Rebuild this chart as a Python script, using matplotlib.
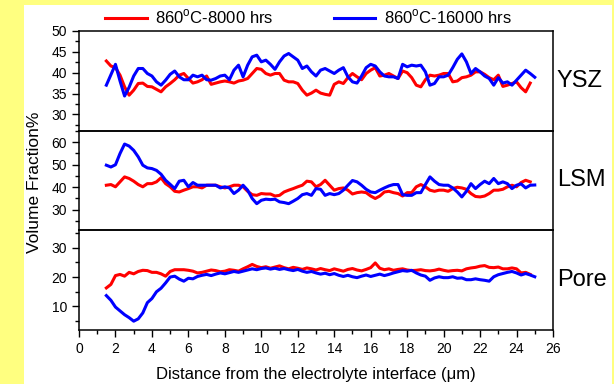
import numpy as np
import matplotlib
matplotlib.use('Agg')
import matplotlib.pyplot as plt
from matplotlib.patches import Rectangle
from matplotlib.ticker import MultipleLocator

plt.rcParams['font.family'] = ['Liberation Sans', 'DejaVu Sans']
plt.rcParams['mathtext.fontset'] = 'custom'
plt.rcParams['mathtext.rm'] = 'Liberation Sans'

### sampling positions (um)
x_8000 = np.arange(1.5, 24.76, 0.25)
x_16000 = np.arange(1.5, 25.01, 0.25)

### YSZ
ysz_8000 = [42.8, 41.6, 41.2, 39.4, 36.6, 34.6, 35.8, 37.4, 37.5, 36.7, 36.6, 36.0, 35.4, 36.6, 37.4, 38.3, 39.4,
            39.8, 38.6, 37.5, 37.8, 38.3, 39.2, 37.2, 37.5, 37.8, 38.0, 37.8, 37.5, 38.0, 38.2, 38.6, 39.8, 41.0,
            40.8, 39.8, 39.4, 39.8, 39.8, 38.2, 37.8, 37.8, 37.4, 35.8, 34.6, 35.1, 35.8, 35.1, 34.8, 34.6, 37.2,
            37.8, 37.4, 38.8, 39.8, 39.0, 38.3, 39.8, 40.6, 41.2, 39.2, 39.4, 39.8, 39.2, 38.6, 40.4, 40.0,
            38.8, 37.0, 36.6, 38.3, 39.4, 39.2, 39.4, 39.8, 39.8, 37.8, 38.0, 38.8, 39.0, 39.4, 40.2, 40.2, 39.6,
            38.8, 38.3, 39.4, 36.7, 37.0, 37.4, 37.8, 36.4, 35.4, 37.5]
ysz_16000 = [37.0, 39.5, 42.0, 38.0, 34.4, 36.5, 39.2, 41.0, 41.0, 39.8, 39.2, 37.8, 37.0, 38.2, 39.6, 40.4, 39.0,
             38.3, 38.3, 39.4, 39.0, 39.4, 38.3, 38.2, 38.6, 39.2, 39.4, 38.3, 40.6, 41.8, 39.0, 41.8, 43.8, 44.2,
             42.6, 43.0, 42.0, 40.8, 42.6, 44.0, 44.6, 43.8, 43.0, 41.0, 41.6, 40.2, 39.2, 40.6, 41.0, 40.4, 39.8,
             40.6, 41.2, 39.0, 37.8, 37.5, 39.2, 41.2, 42.0, 41.6, 40.2, 39.2, 39.0, 39.0, 38.6, 42.0, 41.4,
             41.8, 41.6, 41.8, 40.2, 37.0, 37.4, 39.0, 39.0, 39.4, 41.2, 43.2, 44.5, 42.6, 39.8, 41.0, 40.2, 39.2,
             38.6, 37.0, 38.8, 37.5, 37.8, 37.0, 38.2, 39.4, 40.6, 39.8, 38.9]

### LSM
lsm_8000 = [40.9, 41.2, 40.2, 42.4, 44.6, 43.9, 42.7, 41.2, 40.2, 41.6, 41.6, 42.4, 44.2, 41.6, 40.2, 38.2, 37.9,
            38.7, 39.4, 40.2, 40.2, 39.7, 40.9, 40.9, 40.9, 40.2, 39.7, 40.2, 40.9, 40.9, 40.2, 38.2, 36.7, 36.4,
            37.2, 37.0, 37.0, 36.1, 36.4, 37.9, 38.7, 39.4, 40.2, 40.9, 42.7, 42.4, 40.2, 41.2, 43.1, 40.9, 38.7,
            39.4, 39.7, 38.7, 37.0, 37.6, 37.9, 37.6, 36.1, 35.0, 36.1, 37.9, 38.2, 37.6, 37.2, 36.1, 37.6,
            37.6, 40.2, 41.2, 40.2, 38.7, 38.2, 38.7, 38.7, 38.2, 39.4, 40.0, 39.7, 39.1, 37.2, 35.9, 35.7, 36.1,
            37.2, 38.7, 38.7, 39.1, 40.2, 40.9, 40.2, 42.1, 43.1, 42.4]
lsm_16000 = [49.8, 49.0, 50.0, 55.0, 59.2, 58.3, 56.4, 53.5, 49.8, 48.6, 48.3, 47.5, 45.8, 43.1, 41.3, 39.4, 42.7,
             43.1, 40.2, 42.1, 40.9, 40.9, 40.9, 40.9, 40.9, 39.7, 40.2, 39.7, 37.2, 38.7, 40.9, 38.7, 35.0, 32.7,
             34.2, 34.7, 34.5, 34.7, 33.5, 33.2, 32.7, 33.8, 35.0, 36.7, 37.2, 36.4, 39.4, 39.1, 36.4, 37.2, 36.7,
             37.2, 38.7, 40.9, 43.0, 42.4, 40.9, 39.1, 37.9, 37.6, 38.7, 39.7, 40.6, 41.2, 41.2, 36.7, 36.4,
             36.4, 37.6, 37.6, 41.2, 44.6, 42.7, 41.2, 40.9, 40.9, 39.7, 37.9, 35.7, 38.2, 41.6, 39.4, 41.2, 42.7,
             41.6, 43.9, 41.6, 42.4, 41.6, 39.4, 40.9, 41.5, 39.7, 40.9, 41.0]

### Pore
pore_8000 = [16.3, 17.5, 20.5, 20.9, 20.3, 21.6, 21.1, 21.9, 22.3, 22.2, 21.6, 21.6, 21.1, 20.3, 21.9, 22.5, 22.5,
             22.5, 22.3, 22.0, 21.4,
             21.6, 22.0, 22.4, 22.2, 21.8, 22.0, 22.5, 22.3, 22.0, 22.8, 23.5, 24.3, 23.6, 23.2, 23.5, 23.0, 23.4,
             23.8, 23.2, 22.8, 23.3, 23.0, 22.6, 23.1, 22.8, 22.4, 22.9, 22.5, 22.2, 22.8, 22.4, 22.0, 22.6, 22.9,
             22.4, 22.1, 22.6, 23.2, 24.8, 23.0, 22.5, 22.8, 22.3, 22.6, 22.8,
             22.4, 22.2, 22.3, 22.5, 22.2, 22.1, 22.3, 22.7, 22.3, 22.0, 22.2, 22.3, 22.1, 22.8, 23.1, 23.3, 23.7,
             23.9, 23.3, 23.2, 23.4, 22.8, 22.8, 23.1, 22.8, 21.4, 21.6, 20.9]
pore_16000 = [13.7, 12.1, 9.8, 8.5, 7.2, 6.2, 5.0, 5.8, 7.8, 11.3, 12.7, 15.0, 16.2, 18.0, 20.0, 20.3, 19.3,
              18.6, 19.6, 19.4, 20.2,
              20.6, 20.9, 20.5, 21.0, 21.4, 21.1, 21.5, 21.9, 21.6, 22.0, 22.4, 22.8, 22.5, 22.9, 23.1, 22.7, 23.0,
              22.6, 22.9, 22.5, 22.2, 22.6, 22.0, 21.6, 21.9, 21.4, 21.0, 21.3, 20.8, 21.2, 20.6, 20.2, 20.6, 20.1,
              19.8, 20.3, 20.7, 20.2, 20.6, 21.0, 20.5, 20.9, 21.4, 21.8, 22.2,
              22.0, 22.3, 21.4, 20.7, 20.3, 18.9, 19.7, 20.1, 19.8, 19.8, 20.1, 19.6, 19.7, 19.1, 19.1, 19.4, 19.1,
              18.9, 18.6, 20.1, 20.8, 21.2, 21.6, 21.9, 21.4, 20.7, 21.2, 20.7, 20.1]

labels = ['860$^\\mathrm{o}$C-8000 hrs', '860$^\\mathrm{o}$C-16000 hrs']
panel_names = ['YSZ', 'LSM', 'Pore']
panels = [(ysz_8000, ysz_16000), (lsm_8000, lsm_16000), (pore_8000, pore_16000)]
ylims = [(26, 50), (21, 65), (2, 36)]
yminor = [2.5, 5, 5]
yticks_shown = [[30, 35, 40, 45, 50], [30, 40, 50, 60], [10, 20, 30]]

fig = plt.figure(figsize=(6.14, 3.84), dpi=100, facecolor='#ffff80')
fig.patches.append(Rectangle((24/614, 0), 588/614, 379/384, transform=fig.transFigure,
                             facecolor='white', edgecolor='none', zorder=-10))

left = 79/614
width = 474/614
bottoms = [(384-131)/384, (384-230)/384, (384-330)/384]
heights = [100/384, 99/384, 100/384]

handles = []
for k in range(3):
    ax = fig.add_axes([left, bottoms[k], width, heights[k]])
    ax.set_facecolor('none')
    r, b = panels[k]
    h1, = ax.plot(x_8000, r, color='#ff0000', lw=2.2, label=labels[0])
    h2, = ax.plot(x_16000, b, color='#0000ff', lw=2.2, label=labels[1])
    if k == 0:
        handles = [h1, h2]
    ax.set_xlim(0, 26)
    ax.set_ylim(*ylims[k])
    ax.set_yticks(yticks_shown[k])
    ax.yaxis.set_minor_locator(MultipleLocator(yminor[k]))
    ax.xaxis.set_major_locator(MultipleLocator(2))
    ax.xaxis.set_minor_locator(MultipleLocator(1))
    ax.tick_params(which='both', direction='out', right=False, top=False, labelsize=10, width=1)
    ax.tick_params(which='major', length=5)
    ax.tick_params(which='minor', length=3)
    for s in ax.spines.values():
        s.set_linewidth(1.1)
    if k < 2:
        ax.tick_params(axis='x', which='both', bottom=False, labelbottom=False)
    else:
        ax.set_xlabel('Distance from the electrolyte interface (\u03bcm)', fontsize=12, labelpad=8)
    ax.text(1.008, 0.5, panel_names[k], transform=ax.transAxes, fontsize=17, va='center', ha='left')

fig.text(35/614, 1-182/384, 'Volume Fraction%', rotation=90, fontsize=12.5, va='center', ha='center')
fig.legend(handles=handles, labels=labels, loc='center', bbox_to_anchor=(0.502, 1-17/384), ncol=2,
           frameon=False, fontsize=12, handlelength=2.5, columnspacing=3.6, handletextpad=0.5)

plt.savefig('out.png', dpi=100, facecolor=fig.get_facecolor())
